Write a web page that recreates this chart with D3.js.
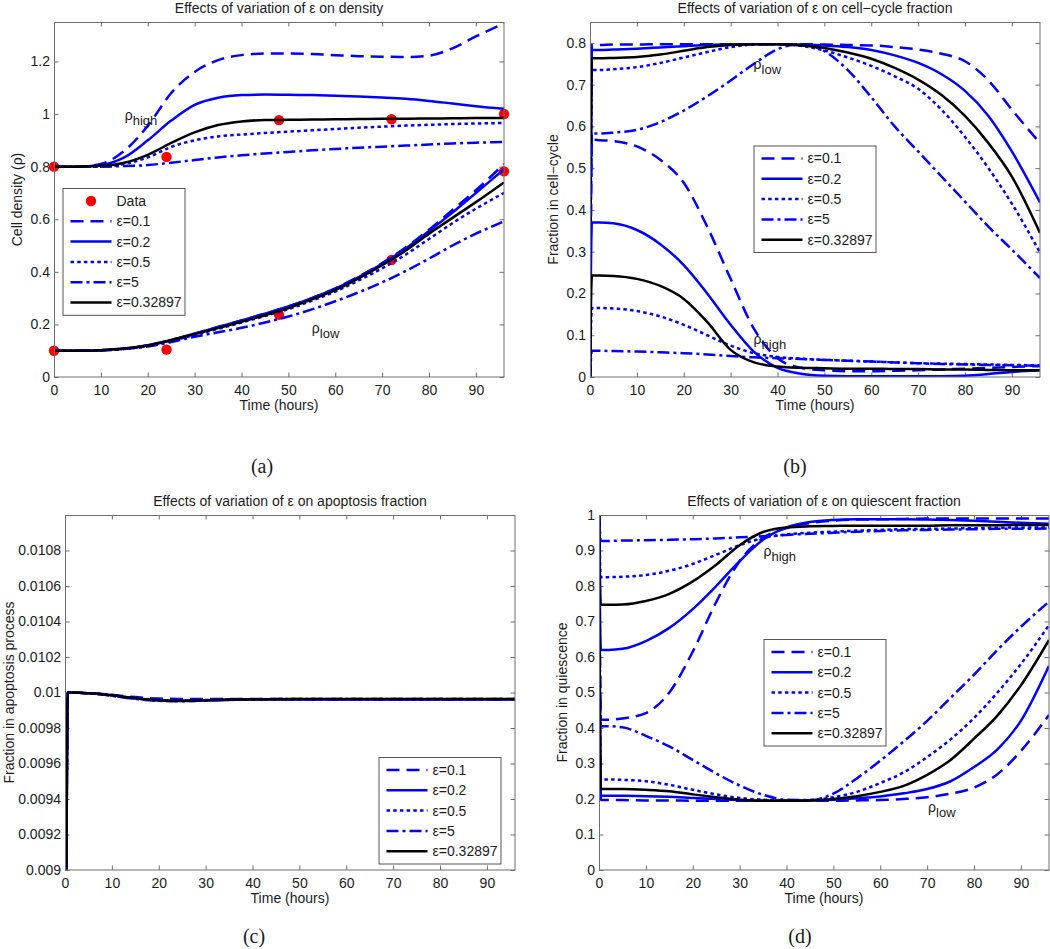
<!DOCTYPE html>
<html><head><meta charset="utf-8">
<script src="https://cdn.jsdelivr.net/npm/d3@7"></script>
<style>body{margin:0;background:#fff}svg{display:block}</style>
</head><body><svg id="c" width="1050" height="949"></svg>
<script>
// ---------------- DATA ----------------
const epsLabels = ["ε=0.1","ε=0.2","ε=0.5","ε=5","ε=0.32897"];
const xTicks = [0,10,20,30,40,50,60,70,80,90];

// (a) density
const timeA = [0,5,10,15,20,25,30,35,40,45,50,55,60,65,70,75,80,85,90,96];
const densHighE01 = [0.8,0.8,0.81,0.86,0.955,1.08,1.16,1.205,1.224,1.23,1.23,1.228,1.224,1.22,1.218,1.217,1.222,1.25,1.295,1.345];
const densHighE02 = [0.8,0.8,0.806,0.835,0.9,0.975,1.035,1.062,1.072,1.074,1.073,1.072,1.07,1.067,1.063,1.058,1.05,1.04,1.03,1.02];
const densHighE05 = [0.8,0.8,0.8,0.81,0.835,0.875,0.9,0.915,0.922,0.928,0.933,0.938,0.943,0.948,0.952,0.956,0.959,0.962,0.964,0.966];
const densHighE5  = [0.8,0.8,0.8,0.802,0.806,0.815,0.825,0.835,0.843,0.85,0.856,0.862,0.867,0.872,0.876,0.88,0.884,0.888,0.891,0.894];
const densHighBest= [0.8,0.8,0.803,0.815,0.845,0.89,0.93,0.958,0.972,0.977,0.978,0.979,0.98,0.981,0.982,0.982,0.983,0.984,0.985,0.985];
const densLowE01  = [0.1,0.1,0.102,0.108,0.121,0.141,0.165,0.19,0.215,0.241,0.268,0.3,0.337,0.382,0.433,0.492,0.56,0.635,0.71,0.81];
const densLowE02  = [0.1,0.1,0.102,0.108,0.121,0.141,0.165,0.19,0.215,0.241,0.268,0.3,0.336,0.38,0.43,0.488,0.555,0.625,0.7,0.79];
const densLowE05  = [0.1,0.1,0.102,0.107,0.118,0.137,0.16,0.183,0.207,0.232,0.258,0.29,0.325,0.367,0.413,0.465,0.525,0.585,0.64,0.70];
const densLowE5   = [0.1,0.1,0.101,0.106,0.116,0.133,0.153,0.17,0.187,0.207,0.23,0.257,0.288,0.322,0.36,0.403,0.45,0.5,0.545,0.592];
const densLowBest = [0.1,0.1,0.102,0.108,0.12,0.14,0.163,0.186,0.21,0.235,0.262,0.295,0.33,0.375,0.425,0.48,0.545,0.605,0.665,0.74];
const dataTime = [0,24,48,72,96];
const dataHigh = [0.8,0.837,0.977,0.98,1.0];
const dataLow  = [0.1,0.104,0.237,0.445,0.782];

// (b) cell-cycle fraction
const timeB = [0,0.4,2,5,10,15,20,25,30,35,40,45,50,55,60,65,70,75,80,85,90,96];
const cycLowE01  = [0,0.795,0.795,0.796,0.796,0.797,0.797,0.797,0.797,0.797,0.797,0.797,0.796,0.795,0.794,0.79,0.784,0.774,0.756,0.71,0.64,0.56];
const cycLowE02  = [0,0.783,0.783,0.784,0.786,0.789,0.792,0.795,0.797,0.797,0.797,0.796,0.794,0.79,0.783,0.77,0.752,0.725,0.685,0.625,0.54,0.418];
const cycLowE05  = [0,0.735,0.735,0.737,0.742,0.752,0.765,0.778,0.79,0.796,0.797,0.793,0.782,0.765,0.745,0.72,0.69,0.64,0.575,0.5,0.415,0.298];
const cycLowE5   = [0,0.583,0.583,0.585,0.592,0.61,0.638,0.672,0.71,0.75,0.785,0.797,0.78,0.735,0.67,0.6,0.54,0.48,0.42,0.36,0.305,0.237];
const cycLowBest = [0,0.763,0.763,0.764,0.766,0.772,0.781,0.79,0.795,0.797,0.797,0.794,0.788,0.777,0.762,0.74,0.712,0.675,0.625,0.56,0.48,0.345];
const cycHighE01 = [0,0.568,0.567,0.565,0.552,0.52,0.465,0.36,0.235,0.115,0.045,0.022,0.016,0.014,0.014,0.015,0.016,0.018,0.02,0.022,0.024,0.026];
const cycHighE02 = [0,0.37,0.37,0.368,0.352,0.318,0.268,0.2,0.125,0.06,0.022,0.008,0.003,0.002,0.002,0.002,0.002,0.002,0.003,0.007,0.012,0.016];
const cycHighE05 = [0,0.165,0.165,0.164,0.158,0.145,0.125,0.1,0.075,0.057,0.048,0.044,0.041,0.039,0.037,0.035,0.033,0.032,0.031,0.03,0.029,0.028];
const cycHighE5  = [0,0.063,0.063,0.062,0.061,0.059,0.057,0.054,0.05,0.047,0.045,0.043,0.041,0.039,0.037,0.035,0.033,0.031,0.03,0.029,0.028,0.027];
const cycHighBest= [0,0.243,0.243,0.242,0.235,0.218,0.187,0.132,0.065,0.035,0.025,0.022,0.021,0.02,0.02,0.019,0.019,0.018,0.018,0.017,0.016,0.016];

// (c) apoptosis fraction
const timeC = [0.3,0.6,1,3,5,8,10,15,20,25,30,35,40,50,60,70,80,90,96];
const apoE01  = [0.009,0.01,0.01,0.009999,0.009997,0.009992,0.009987,0.009974,0.009966,0.009964,0.009964,0.009964,0.009964,0.009964,0.009964,0.009964,0.009964,0.009964,0.009964];
const apoE02  = [0.009,0.01,0.01,0.009999,0.009996,0.00999,0.009984,0.009967,0.009955,0.009952,0.009955,0.009958,0.00996,0.009961,0.009961,0.009961,0.00996,0.00996,0.00996];
const apoE05  = [0.009,0.01,0.01,0.009999,0.009996,0.009989,0.009983,0.009967,0.009957,0.009955,0.009958,0.009961,0.009962,0.009963,0.009963,0.009963,0.009963,0.009963,0.009963];
const apoE5   = [0.009,0.01,0.01,0.009999,0.009995,0.009988,0.009981,0.009964,0.009953,0.009951,0.009955,0.009959,0.009961,0.009962,0.009962,0.009962,0.009962,0.009962,0.009962];
const apoBest = [0.009,0.01,0.01,0.009999,0.009996,0.00999,0.009984,0.009968,0.009957,0.009954,0.009957,0.00996,0.009962,0.009963,0.009963,0.009963,0.009963,0.009963,0.009963];

// (d) quiescent fraction
const timeD = [0,0.4,2,5,10,15,20,25,30,35,40,45,50,55,60,65,70,75,80,85,90,96];
const quiHighE01 = [1,0.423,0.423,0.427,0.442,0.5,0.615,0.755,0.87,0.935,0.963,0.977,0.984,0.987,0.988,0.989,0.99,0.99,0.99,0.99,0.99,0.99];
const quiHighE02 = [1,0.62,0.62,0.623,0.645,0.682,0.735,0.8,0.87,0.93,0.965,0.98,0.986,0.988,0.988,0.988,0.987,0.986,0.984,0.981,0.978,0.975];
const quiHighE05 = [1,0.825,0.825,0.826,0.831,0.843,0.862,0.888,0.915,0.935,0.945,0.95,0.953,0.956,0.958,0.96,0.961,0.962,0.963,0.964,0.965,0.965];
const quiHighE5  = [1,0.927,0.927,0.928,0.929,0.93,0.932,0.934,0.937,0.94,0.944,0.947,0.95,0.953,0.955,0.957,0.958,0.959,0.96,0.961,0.961,0.962];
const quiHighBest= [1,0.747,0.747,0.748,0.758,0.778,0.813,0.86,0.915,0.952,0.965,0.968,0.969,0.97,0.97,0.97,0.97,0.971,0.971,0.971,0.972,0.972];
const quiLowE01  = [1,0.197,0.197,0.197,0.196,0.196,0.195,0.195,0.195,0.195,0.195,0.195,0.195,0.196,0.197,0.2,0.205,0.215,0.232,0.27,0.335,0.437];
const quiLowE02  = [1,0.209,0.209,0.209,0.208,0.206,0.203,0.2,0.197,0.195,0.195,0.196,0.198,0.202,0.207,0.216,0.228,0.25,0.29,0.34,0.42,0.575];
const quiLowE05  = [1,0.255,0.255,0.254,0.25,0.24,0.226,0.213,0.203,0.198,0.195,0.197,0.205,0.22,0.245,0.275,0.318,0.368,0.428,0.5,0.58,0.69];
const quiLowE5   = [1,0.405,0.405,0.402,0.378,0.348,0.31,0.272,0.238,0.212,0.198,0.197,0.215,0.258,0.308,0.362,0.42,0.485,0.55,0.62,0.685,0.756];
const quiLowBest = [1,0.228,0.228,0.228,0.226,0.222,0.213,0.205,0.198,0.195,0.195,0.196,0.2,0.208,0.22,0.237,0.268,0.31,0.37,0.435,0.52,0.648];

// tick values
const yTicksA = [0,0.2,0.4,0.6,0.8,1,1.2];
const yTicksB = [0,0.1,0.2,0.3,0.4,0.5,0.6,0.7,0.8];
const yTicksC = [0.009,0.0092,0.0094,0.0096,0.0098,0.01,0.0102,0.0104,0.0106,0.0108];
const yTicksD = [0,0.1,0.2,0.3,0.4,0.5,0.6,0.7,0.8,0.9,1];

// ---------------- STYLE ----------------
const FONT = "'Liberation Sans', Arial, Helvetica, sans-serif";
const SERIF = "'Liberation Serif', 'DejaVu Serif', serif";
const AXIS = "#6f6f6f", TXT = "#1b1b1b";
const styles = [
  {color:"#0000ff", dash:"13,7"},
  {color:"#0000ff", dash:null},
  {color:"#0000ff", dash:"3.5,3.2"},
  {color:"#0000ff", dash:"12,4,3,4"},
  {color:"#000000", dash:null}
];
const LW = 2.5, PW = 450, PH = 355;

const svg = d3.select("#c");
const defs = svg.append("defs");

function panel(cfg){
  const g = svg.append("g");
  const x = d3.scaleLinear().domain([0,96]).range([cfg.left, cfg.left+PW]);
  const y = d3.scaleLinear().domain(cfg.yDomain).range([cfg.top+PH, cfg.top]);
  const cid = "clip"+cfg.key;
  defs.append("clipPath").attr("id",cid).append("rect")
    .attr("x",cfg.left).attr("y",cfg.top).attr("width",PW).attr("height",PH);

  const ax = (axis, tr) => {
    const a = g.append("g").attr("transform",tr).call(axis);
    a.select(".domain").remove();
    a.attr("font-family",FONT).attr("font-size",14);
    a.selectAll("line").attr("stroke",AXIS).attr("stroke-width",1);
    a.selectAll("text").attr("fill",TXT);
    return a;
  };
  ax(d3.axisBottom(x).tickValues(xTicks).tickSizeInner(-4.5).tickSizeOuter(0).tickPadding(8).tickFormat(d3.format("d")), `translate(0,${cfg.top+PH})`);
  ax(d3.axisTop(x).tickValues(xTicks).tickSizeInner(-4.5).tickSizeOuter(0).tickFormat(""), `translate(0,${cfg.top})`);
  ax(d3.axisLeft(y).tickValues(cfg.yTicks).tickSizeInner(-4.5).tickSizeOuter(0).tickPadding(4).tickFormat(d=>String(d)), `translate(${cfg.left},0)`);
  ax(d3.axisRight(y).tickValues(cfg.yTicks).tickSizeInner(-4.5).tickSizeOuter(0).tickFormat(""), `translate(${cfg.left+PW},0)`);

  // markers are not clipped (as in the original)
  if (cfg.points){
    cfg.points.forEach(p=>{
      g.selectAll(null).data(p.t.map((t,i)=>[t,p.v[i]])).enter().append("circle")
        .attr("cx",d=>x(d[0])).attr("cy",d=>y(d[1])).attr("r",5.2).attr("fill","#ff0000");
    });
  }
  const plot = g.append("g").attr("clip-path",`url(#${cid})`);
  const line = d3.line().x(d=>x(d[0])).y(d=>y(d[1])).curve(d3.curveMonotoneX);
  cfg.series.forEach(s=>{
    const st = styles[s.style];
    plot.append("path").datum(s.t.map((t,i)=>[t,s.v[i]]))
      .attr("d",line).attr("fill","none").attr("stroke",st.color)
      .attr("stroke-width",LW).attr("stroke-dasharray",st.dash);
  });

  g.append("rect").attr("x",cfg.left+0.5).attr("y",cfg.top+0.5).attr("width",PW-0.5).attr("height",PH-0.5)
    .attr("fill","none").attr("stroke",AXIS).attr("stroke-width",1);

  // title, labels
  g.append("text").attr("x",cfg.left+PW/2).attr("y",cfg.top-9).attr("text-anchor","middle")
    .attr("font-family",FONT).attr("font-size",14).attr("fill",TXT).text(cfg.title);
  g.append("text").attr("x",cfg.left+PW/2).attr("y",cfg.top+PH+33).attr("text-anchor","middle")
    .attr("font-family",FONT).attr("font-size",14).attr("fill",TXT).text("Time (hours)");
  g.append("text").attr("transform",`translate(${cfg.left-cfg.ylOff},${cfg.top+PH/2}) rotate(-90)`)
    .attr("text-anchor","middle").attr("dy","0.35em")
    .attr("font-family",FONT).attr("font-size",14).attr("fill",TXT).text(cfg.ylabel);
  g.append("text").attr("x",cfg.caption[0]).attr("y",cfg.caption[1]).attr("text-anchor","middle")
    .attr("font-family",SERIF).attr("font-size",20).attr("fill",TXT).text(cfg.captionText);

  // annotations
  (cfg.notes||[]).forEach(n=>{
    const t = g.append("text").attr("x",x(n.t)).attr("y",y(n.v))
      .attr("font-family",FONT).attr("font-size",14).attr("fill",TXT);
    t.append("tspan").text("ρ");
    t.append("tspan").attr("dy",5).attr("font-size",13).text(n.sub);
  });

  // legend
  const L = cfg.legend;
  const entries = (L.data ? [{label:"Data", data:true}] : []).concat(epsLabels.map((l,i)=>({label:l, style:i})));
  const lh = 20.3;
  const bh = entries.length*lh + 5;
  const lg = g.append("g").attr("transform",`translate(${L.x},${L.y})`);
  lg.append("rect").attr("x",0.5).attr("y",0.5).attr("width",122).attr("height",bh)
    .attr("fill","#fff").attr("stroke","#555").attr("stroke-width",1);
  entries.forEach((e,i)=>{
    const cy = 13 + i*lh;
    if (e.data){
      lg.append("circle").attr("cx",28.5).attr("cy",cy).attr("r",5.2).attr("fill","#ff0000");
    } else {
      const st = styles[e.style];
      lg.append("line").attr("x1",8).attr("x2",49).attr("y1",cy).attr("y2",cy)
        .attr("stroke",st.color).attr("stroke-width",LW).attr("stroke-dasharray",st.dash);
    }
    lg.append("text").attr("x",54).attr("y",cy).attr("dy","0.35em")
      .attr("font-family",FONT).attr("font-size",14).attr("fill",TXT).text(e.label);
  });
}

const ser = (t, arrs) => arrs.map((v,i)=>({t, v, style:i}));

panel({key:"a", left:54, top:22, yDomain:[0,1.35], yTicks:yTicksA,
  title:"Effects of variation of ε on density", ylabel:"Cell density (ρ)", ylOff:37,
  caption:[262,473], captionText:"(a)",
  points:[{t:dataTime, v:dataHigh},{t:dataTime, v:dataLow}],
  series: ser(timeA,[densHighE01,densHighE02,densHighE05,densHighE5,densHighBest])
    .concat(ser(timeA,[densLowE01,densLowE02,densLowE05,densLowE5,densLowBest])),
  notes:[{t:15.1,v:0.977,sub:"high"},{t:55,v:0.167,sub:"low"}],
  legend:{x:62.5, y:188, data:true}});

panel({key:"b", left:590, top:22, yDomain:[0,0.85], yTicks:yTicksB,
  title:"Effects of variation of ε on cell−cycle fraction", ylabel:"Fraction in cell−cycle", ylOff:37,
  caption:[795,473], captionText:"(b)",
  series: ser(timeB,[cycLowE01,cycLowE02,cycLowE05,cycLowE5,cycLowBest])
    .concat(ser(timeB,[cycHighE01,cycHighE02,cycHighE05,cycHighE5,cycHighBest])),
  notes:[{t:34.9,v:0.7375,sub:"low"},{t:34.9,v:0.079,sub:"high"}],
  legend:{x:753.5, y:145.5}});

panel({key:"c", left:65, top:515, yDomain:[0.009,0.011], yTicks:yTicksC,
  title:"Effects of variation of ε on apoptosis fraction", ylabel:"Fraction in apoptosis process", ylOff:56,
  caption:[254,943], captionText:"(c)",
  series: ser(timeC,[apoE01,apoE02,apoE05,apoE5,apoBest]),
  legend:{x:378.5, y:757}});

panel({key:"d", left:599, top:515, yDomain:[0,1], yTicks:yTicksD,
  title:"Effects of variation of ε on quiescent fraction", ylabel:"Fraction in quiescence", ylOff:37,
  caption:[800,943], captionText:"(d)",
  series: ser(timeD,[quiHighE01,quiHighE02,quiHighE05,quiHighE5,quiHighBest])
    .concat(ser(timeD,[quiLowE01,quiLowE02,quiLowE05,quiLowE5,quiLowBest])),
  notes:[{t:35.1,v:0.8845,sub:"high"},{t:70.2,v:0.163,sub:"low"}],
  legend:{x:763.5, y:639}});
</script></body></html>
